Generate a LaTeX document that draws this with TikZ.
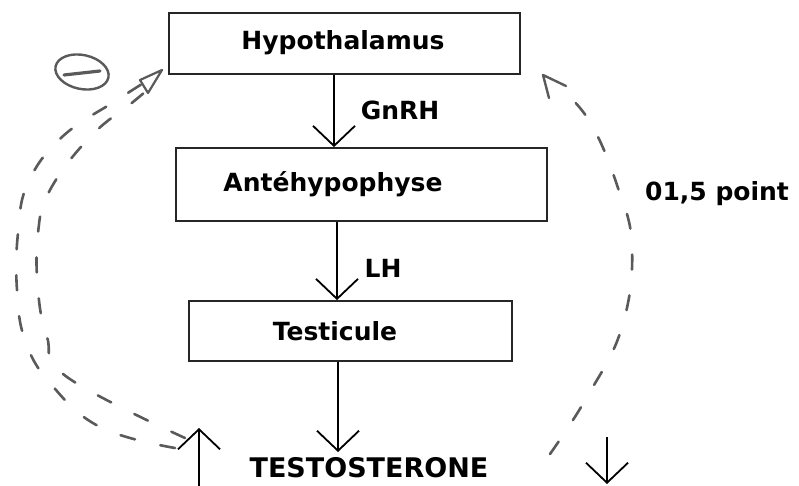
\documentclass[tikz,border=0pt]{standalone}
\usepackage{fontspec}
\setmainfont{DejaVu Sans}
\usetikzlibrary{arrows.meta,shapes.geometric}
\definecolor{dashgray}{HTML}{5A5A5A}
\tikzset{
  box/.style={draw=black!85, line width=1.8pt, inner sep=0pt},
  lbl/.style={font=\fontsize{25}{28}\selectfont\bfseries, inner sep=0pt, anchor=center},
  arr/.style={line width=2.8pt, -{Straight Barb[length=20pt,width=42pt,line width=1.8pt]}},
  fb/.style={dashgray, line width=2.6pt, dash pattern=on 15pt off 26pt, line cap=round},
}
\begin{document}
\begin{tikzpicture}[x=1pt,y=-1pt]
\useasboundingbox (0,0) rectangle (799,486);
% boxes
\node[box, minimum width=351pt, minimum height=61pt] (hyp) at (344.5,43.5) {};
\node[box, minimum width=371pt, minimum height=73pt] (ante) at (361.5,184.5) {};
\node[box, minimum width=323pt, minimum height=60pt] (test) at (350.5,331) {};
% texts
\node[lbl] (thyp) at (343,43) {Hypothalamus};
\node[lbl] (tante) at (333,184) {Antéhypophyse};
\node[lbl] (ttest) at (335,331) {Testicule};
\node[lbl] (gnrh) at (400,110) {GnRH};
\node[lbl] (lh) at (383,268) {LH};
\node[lbl] (pt) at (717,194) {01,5 point};
\node[lbl, font=\fontsize{27}{30}\selectfont\bfseries, anchor=base] (testo) at (369,477) {TESTOSTERONE};
% main arrows
\draw[arr] ([xshift=-10.5pt]hyp.south) -- ([xshift=-27.5pt]ante.north);
\draw[arr] ([xshift=-24.5pt]ante.south) -- ([xshift=-13.5pt]test.north);
\coordinate (tt) at (338,452);
\draw[arr] ([xshift=-12.5pt]test.south) -- (tt);
% up / down arrows
\coordinate (ua) at (199,486);
\coordinate (ub) at (199,428);
\draw[arr] (ua) -- (ub);
\coordinate (da) at (607,437);
\coordinate (db) at (607,484);
\draw[arr] (da) -- (db);
% left feedback (double dashed) with open triangle tip
\coordinate (ltip) at (162,70);
\draw[fb] plot[smooth, tension=0.7] coordinates {(175,448) (100,427) (50,383) (25,340) (17,290) (18,233) (28,183) (62,137) (117,100) (150,79)};
\draw[fb] plot[smooth, tension=0.7] coordinates {(185,438) (67,377) (47,337) (38,290) (38,233) (50,190) (90,137) (133,102) (152,86)};
\draw[dashgray, line width=2.2pt, line join=round] (ltip) -- (140,80) -- (148,93) -- cycle;
% minus ellipse
\node[draw=dashgray, line width=2.4pt, ellipse, minimum width=54pt, minimum height=34pt, rotate=-12, inner sep=0pt] (minus) at (82,72) {};
\draw[dashgray, line width=3.2pt, line cap=round] (64,75) -- (100,71);
% right feedback (single dashed)
\coordinate (rtip) at (543,75);
\draw[fb] plot[smooth, tension=0.7] coordinates {(550,454) (587,397) (622,327) (632,247) (617,185) (590,122) (560,88)};
\draw[dashgray, line width=2.4pt, line cap=round, line join=round] (566,86) -- (rtip) -- (549,98);
\end{tikzpicture}
\end{document}
